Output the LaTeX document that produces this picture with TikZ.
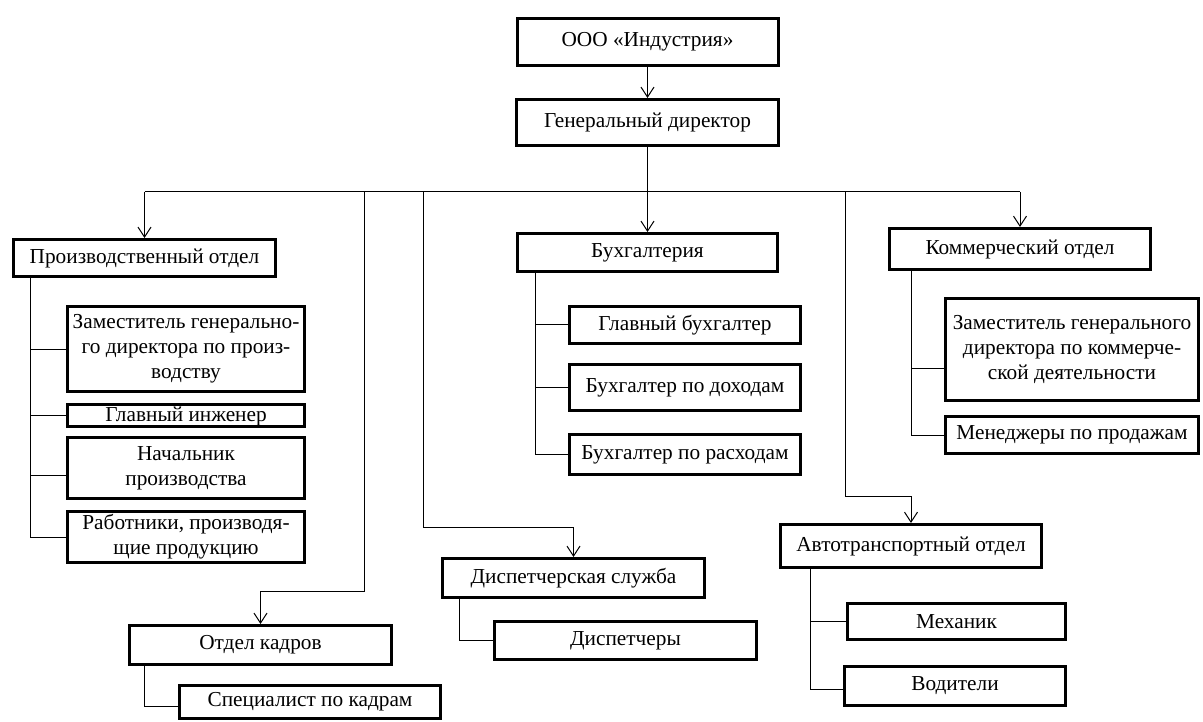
\documentclass[tikz,border=0pt]{standalone}
\usepackage{fontspec}
\setmainfont{Liberation Serif}
\usetikzlibrary{arrows.meta}
\begin{document}
\begin{tikzpicture}[x=1pt,y=-1pt,
  unit/.style={draw=black, line width=3pt, fill=white, inner sep=0pt,
    align=center, font=\fontsize{21.3}{25}\selectfont},
  link/.style={draw=black, line width=1pt},
  feed/.style={link, -{Straight Barb[length=10pt,width=13pt,line width=1pt]}}
]
\useasboundingbox (0,0) rectangle (1203,722);

% top of the hierarchy
\node[unit, minimum width=261pt, minimum height=47pt] (org) at (647.5,42) {ООО «Индустрия»};
\node[unit, minimum width=262pt, minimum height=46pt] (gd) at (647.5,122.5) {Генеральный директор};

% departments
\node[unit, minimum width=262pt, minimum height=37pt] (prod) at (144.5,258) {Производственный отдел};
\node[unit, minimum width=260pt, minimum height=38pt] (buh) at (647.5,252.5) {Бухгалтерия};
\node[unit, minimum width=261pt, minimum height=41pt] (kom) at (1020,249) {Коммерческий отдел};
\node[unit, minimum width=262pt, minimum height=39pt] (kad) at (260.5,645) {Отдел кадров};
\node[unit, minimum width=262pt, minimum height=39pt] (disp) at (573.5,578) {Диспетчерская служба};
\node[unit, minimum width=261pt, minimum height=43pt] (avto) at (911,546) {Автотранспортный отдел};

% production staff
\node[unit, minimum width=237pt, minimum height=85pt] (zam1) at (186,349) {Заместитель генерально-\\го директора по произ-\\водству};
\node[unit, minimum width=237pt, minimum height=22pt, text height=15pt, text depth=4pt] (eng) at (186,415.5) {Главный инженер};
\node[unit, minimum width=237pt, minimum height=61pt] (nach) at (186,468) {Начальник\\производства};
\node[unit, minimum width=237pt, minimum height=51pt] (rab) at (186,537) {Работники, производя-\\щие продукцию};

% accounting staff
\node[unit, minimum width=231pt, minimum height=37pt] (gb) at (685,325) {Главный бухгалтер};
\node[unit, minimum width=231pt, minimum height=46pt] (bd) at (685,387.5) {Бухгалтер по доходам};
\node[unit, minimum width=231pt, minimum height=40pt] (br) at (685,454.5) {Бухгалтер по расходам};

% commercial staff
\node[unit, minimum width=253pt, minimum height=102pt] (zam2) at (1072,349.5) {Заместитель генерального\\директора по коммерче-\\ской деятельности};
\node[unit, minimum width=253pt, minimum height=37pt] (men) at (1072,435) {Менеджеры по продажам};

% other staff
\node[unit, minimum width=261pt, minimum height=33pt] (spec) at (310,702) {Специалист по кадрам};
\node[unit, minimum width=262pt, minimum height=38pt] (dsp) at (625.5,640.5) {Диспетчеры};
\node[unit, minimum width=218pt, minimum height=36pt] (mech) at (956.5,621.5) {Механик};
\node[unit, minimum width=221pt, minimum height=39pt] (vod) at (955,686) {Водители};

% subordination arrows
\coordinate (hub) at (647.5,192);
\coordinate (kadbend) at (364,591);
\coordinate (dispbend) at (423,527);
\coordinate (avtobend) at (845,496);

\draw[feed] (org.south) -- (gd.north);
\draw[feed] (gd.south) -- (buh.north);
\draw[link] (prod.north |- hub) -- (kom.north |- hub);
\draw[feed] (prod.north |- hub) -- (prod.north);
\draw[feed] (kom.north |- hub) -- (kom.north);
\draw[feed] (kadbend |- hub) -- (kadbend) -| (kad.north);
\draw[feed] (dispbend |- hub) -- (dispbend) -| (disp.north);
\draw[feed] (avtobend |- hub) -- (avtobend) -| (avto.north);

% staff branches
\draw[link] ([xshift=18pt]prod.south west) |- (zam1.west);
\draw[link] ([xshift=18pt]prod.south west) |- (eng.west);
\draw[link] ([xshift=18pt]prod.south west) |- ([yshift=-7pt]nach.west);
\draw[link] ([xshift=18pt]prod.south west) |- (rab.west);

\draw[link] ([xshift=19pt]buh.south west) |- (gb.west);
\draw[link] ([xshift=19pt]buh.south west) |- (bd.west);
\draw[link] ([xshift=19pt]buh.south west) |- (br.west);

\draw[link] ([xshift=23pt]kom.south west) |- ([yshift=-19pt]zam2.west);
\draw[link] ([xshift=23pt]kom.south west) |- (men.west);

\draw[link] ([xshift=16pt]kad.south west) |- ([yshift=-4pt]spec.west);
\draw[link] ([xshift=18pt]disp.south west) |- (dsp.west);

\draw[link] ([xshift=31pt]avto.south west) |- (mech.west);
\draw[link] ([xshift=31pt]avto.south west) |- ([yshift=-3pt]vod.west);
\end{tikzpicture}
\end{document}
